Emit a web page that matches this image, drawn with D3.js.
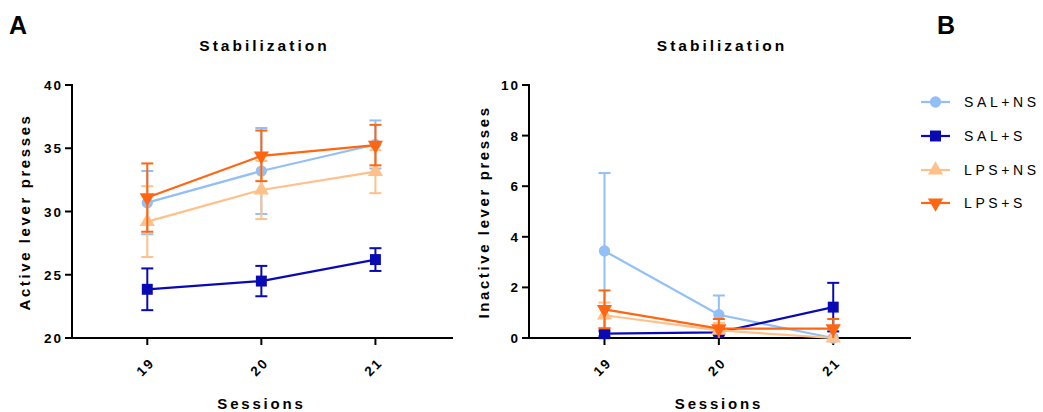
<!DOCTYPE html>
<html>
<head>
<meta charset="utf-8">
<script src="https://cdn.jsdelivr.net/npm/d3@7"></script>
<style>
  body { margin: 0; background: #fff; }
  text { font-family: "Liberation Sans", Arial, sans-serif; font-weight: bold; fill: #000; }
</style>
</head>
<body>
<svg id="chart" width="1043" height="412"></svg>
<script>
// sessions on the x axis
var sessions = [19, 20, 21];
var groups = ["SAL+NS", "SAL+S", "LPS+NS", "LPS+S"];
var colors = ["#92bff5", "#0a0ab4", "#ffc089", "#ff6611"];
var shapes = ["circle", "square", "triangle", "triangleDown"];

// active lever presses, mean and SEM per group
var activeMean = [
  [30.7, 33.2, 35.3],
  [23.85, 24.5, 26.2],
  [29.2, 31.7, 33.15],
  [31.1, 34.4, 35.25]
];
var activeSem = [
  [2.5, 3.4, 1.9],
  [1.65, 1.2, 0.9],
  [2.8, 2.3, 1.7],
  [2.7, 2.0, 1.6]
];

// inactive lever presses
var inactiveMean = [
  [3.44, 0.92, 0.0],
  [0.17, 0.22, 1.22],
  [0.9, 0.3, 0.0],
  [1.13, 0.37, 0.37]
];
var inactiveSem = [
  [3.08, 0.76, 0.0],
  [0.1, 0.1, 0.96],
  [0.5, 0.3, 0.0],
  [0.75, 0.38, 0.38]
];

var activeTicks = [20, 25, 30, 35, 40];
var inactiveTicks = [0, 2, 4, 6, 8, 10];

var svg = d3.select("#chart");

function symbolFor(shape) {
  if (shape == "circle") return d3.symbol().type(d3.symbolCircle).size(100);
  if (shape == "square") return d3.symbol().type(d3.symbolSquare).size(120);
  return d3.symbol().type(d3.symbolTriangle).size(100);
}

function drawPanel(opt) {
  var g = svg.append("g");
  var x = d3.scaleLinear().domain([18.34, 21.68]).range([opt.left, opt.right]);
  var y = d3.scaleLinear().domain(opt.domain).range([338, 85]);

  // title
  g.append("text")
    .attr("x", (opt.left + opt.right) / 2 + 2)
    .attr("y", 51)
    .attr("text-anchor", "middle")
    .style("font-size", "15.5px")
    .style("letter-spacing", "3px")
    .text("Stabilization");

  // y axis
  g.append("line")
    .attr("x1", opt.left).attr("x2", opt.left)
    .attr("y1", y(opt.domain[1]) - 1).attr("y2", 338)
    .attr("stroke", "#000").attr("stroke-width", 2);
  g.selectAll(".yt").data(opt.ticks).enter().append("line")
    .attr("x1", opt.left - 7).attr("x2", opt.left)
    .attr("y1", function(d) { return y(d); })
    .attr("y2", function(d) { return y(d); })
    .attr("stroke", "#000").attr("stroke-width", 2);
  g.selectAll(".yl").data(opt.ticks).enter().append("text")
    .attr("x", opt.left - 9)
    .attr("y", function(d) { return y(d) + 5; })
    .attr("text-anchor", "end")
    .style("font-size", "13.5px")
    .style("letter-spacing", "2px")
    .text(function(d) { return d; });

  // x axis
  g.append("line")
    .attr("x1", opt.left - 1).attr("x2", opt.right)
    .attr("y1", 338).attr("y2", 338)
    .attr("stroke", "#000").attr("stroke-width", 2);
  g.selectAll(".xt").data(sessions).enter().append("line")
    .attr("x1", function(d) { return x(d); })
    .attr("x2", function(d) { return x(d); })
    .attr("y1", 338).attr("y2", 345)
    .attr("stroke", "#000").attr("stroke-width", 2);
  g.selectAll(".xl").data(sessions).enter().append("text")
    .attr("transform", function(d) { return "translate(" + (x(d) - 2) + ",367) rotate(-45)"; })
    .attr("text-anchor", "middle")
    .attr("dy", "0.35em")
    .style("font-size", "13.5px")
    .style("letter-spacing", "2px")
    .text(function(d) { return d; });

  g.append("text")
    .attr("x", (opt.left + opt.right) / 2 - 1)
    .attr("y", 409)
    .attr("text-anchor", "middle")
    .style("font-size", "15px")
    .style("letter-spacing", "2.8px")
    .text("Sessions");

  g.append("text")
    .attr("transform", "translate(" + opt.labelX + ",212) rotate(-90)")
    .attr("text-anchor", "middle")
    .style("font-size", "15px")
    .style("letter-spacing", "2.6px")
    .text(opt.label);

  // series
  groups.forEach(function(name, gi) {
    var pts = sessions.map(function(s, i) {
      return { s: s, m: opt.mean[gi][i], e: opt.sem[gi][i] };
    });
    var c = colors[gi];
    var sg = g.append("g");
    var lo = function(d) { return Math.max(opt.domain[0], d.m - d.e); };
    var hi = function(d) { return d.m + d.e; };

    sg.selectAll(".eb").data(pts).enter().append("line")
      .attr("x1", function(d) { return x(d.s); })
      .attr("x2", function(d) { return x(d.s); })
      .attr("y1", function(d) { return y(lo(d)); })
      .attr("y2", function(d) { return y(hi(d)); })
      .attr("stroke", c).attr("stroke-width", 2);
    sg.selectAll(".cap").data(pts.filter(function(d) { return d.e > 0; })).enter().append("line")
      .attr("x1", function(d) { return x(d.s) - 6; })
      .attr("x2", function(d) { return x(d.s) + 6; })
      .attr("y1", function(d) { return y(hi(d)); })
      .attr("y2", function(d) { return y(hi(d)); })
      .attr("stroke", c).attr("stroke-width", 2);
    sg.selectAll(".capl").data(pts.filter(function(d) { return d.e > 0 && d.m - d.e > opt.domain[0]; })).enter().append("line")
      .attr("x1", function(d) { return x(d.s) - 6; })
      .attr("x2", function(d) { return x(d.s) + 6; })
      .attr("y1", function(d) { return y(lo(d)); })
      .attr("y2", function(d) { return y(lo(d)); })
      .attr("stroke", c).attr("stroke-width", 2);

    sg.append("path")
      .datum(pts)
      .attr("fill", "none")
      .attr("stroke", c)
      .attr("stroke-width", 2.2)
      .attr("d", d3.line().x(function(d) { return x(d.s); }).y(function(d) { return y(d.m); }));

    sg.selectAll(".mk").data(pts).enter().append("path")
      .attr("transform", function(d) {
        var r = shapes[gi] == "triangleDown" ? " rotate(180)" : "";
        return "translate(" + x(d.s) + "," + y(d.m) + ")" + r;
      })
      .attr("d", symbolFor(shapes[gi])())
      .attr("fill", c);
  });
}

drawPanel({ left: 72, right: 453, domain: [20, 40], ticks: activeTicks,
  mean: activeMean, sem: activeSem, label: "Active lever presses", labelX: 30 });
drawPanel({ left: 529, right: 911, domain: [0, 10], ticks: inactiveTicks,
  mean: inactiveMean, sem: inactiveSem, label: "Inactive lever presses", labelX: 489 });

// panel letters
svg.append("text").attr("x", 9).attr("y", 34).style("font-size", "25px").text("A");
svg.append("text").attr("x", 937).attr("y", 34).style("font-size", "25px").text("B");

// legend
var rowsY = [102, 136, 170, 203];
var leg = svg.append("g");
groups.forEach(function(name, gi) {
  var yy = rowsY[gi];
  leg.append("line")
    .attr("x1", 921).attr("x2", 950)
    .attr("y1", yy).attr("y2", yy)
    .attr("stroke", colors[gi]).attr("stroke-width", 2.2);
  leg.append("path")
    .attr("transform", "translate(935.5," + yy + ")" + (shapes[gi] == "triangleDown" ? " rotate(180)" : ""))
    .attr("d", symbolFor(shapes[gi])())
    .attr("fill", colors[gi]);
  leg.append("text")
    .attr("x", 964).attr("y", yy + 5)
    .style("font-size", "14px")
    .style("font-weight", "normal")
    .style("letter-spacing", "3.6px")
    .text(name);
});
</script>
</body>
</html>
